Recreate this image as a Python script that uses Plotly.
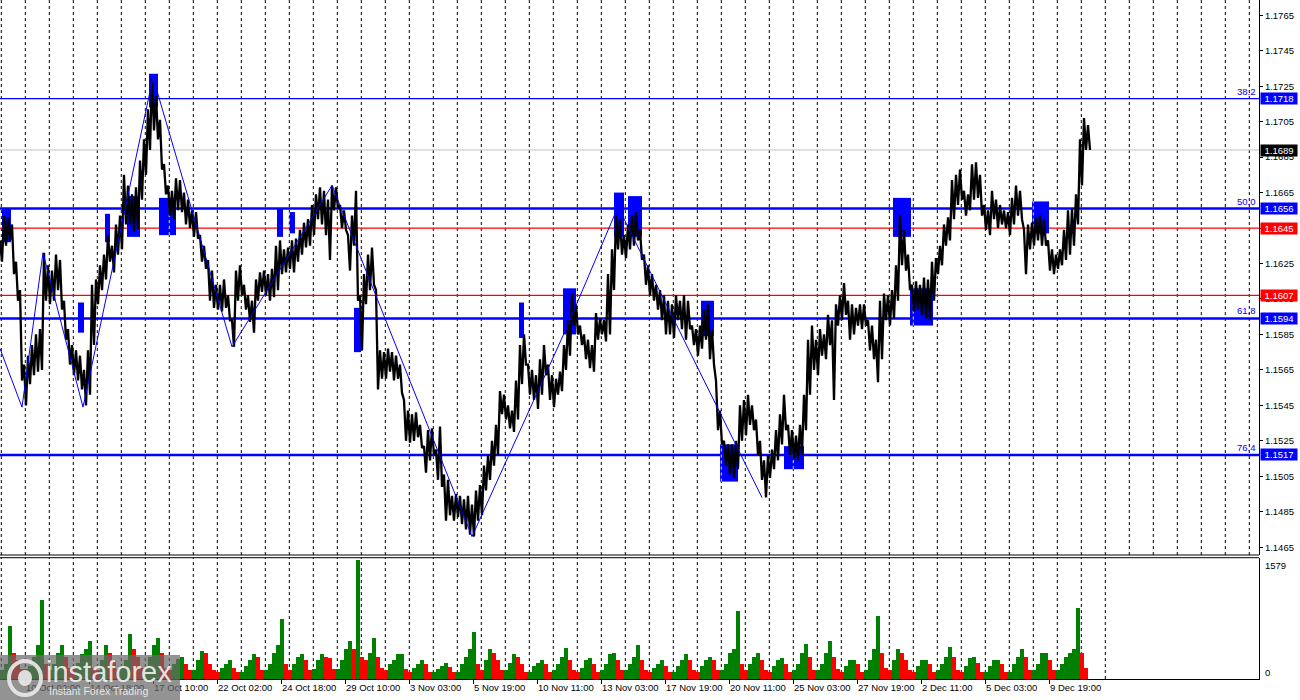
import plotly.graph_objects as go

# ---------------- DATA ----------------
# bar index (1 bar = 1 hour); price sampled every 4 bars: high / low of each group
bar_index = list(range(0, 1089, 4))
highs = [
    1.1638, 1.1652, 1.1651, 1.1647, 1.1626, 1.1610, 1.1568, 1.1573, 1.1579, 1.1585,
    1.1588, 1.1631, 1.1624, 1.1621, 1.1630, 1.1627, 1.1604, 1.1588, 1.1579, 1.1576,
    1.1573, 1.1565, 1.1576, 1.1613, 1.1616, 1.1624, 1.1630, 1.1641, 1.1635, 1.1647,
    1.1652, 1.1675, 1.1669, 1.1664, 1.1668, 1.1683, 1.1695, 1.1712, 1.1730, 1.1720,
    1.1706, 1.1681, 1.1669, 1.1666, 1.1673, 1.1672, 1.1665, 1.1661, 1.1655, 1.1654,
    1.1641, 1.1635, 1.1627, 1.1621, 1.1613, 1.1613, 1.1616, 1.1607, 1.1593, 1.1621,
    1.1624, 1.1613, 1.1607, 1.1604, 1.1616, 1.1620, 1.1621, 1.1619, 1.1622, 1.1635,
    1.1638, 1.1633, 1.1634, 1.1638, 1.1639, 1.1644, 1.1648, 1.1650, 1.1658, 1.1664,
    1.1668, 1.1666, 1.1661, 1.1669, 1.1668, 1.1658, 1.1655, 1.1641, 1.1652, 1.1666,
    1.1607, 1.1619, 1.1630, 1.1634, 1.1610, 1.1576, 1.1575, 1.1577, 1.1575, 1.1573,
    1.1568, 1.1548, 1.1542, 1.1540, 1.1541, 1.1534, 1.1522, 1.1531, 1.1532, 1.1520,
    1.1533, 1.1506, 1.1503, 1.1494, 1.1495, 1.1494, 1.1492, 1.1494, 1.1489, 1.1497,
    1.1500, 1.1511, 1.1517, 1.1525, 1.1534, 1.1553, 1.1551, 1.1545, 1.1542, 1.1559,
    1.1579, 1.1585, 1.1568, 1.1565, 1.1562, 1.1571, 1.1579, 1.1568, 1.1562, 1.1560,
    1.1564, 1.1579, 1.1593, 1.1608, 1.1602, 1.1590, 1.1585, 1.1582, 1.1579, 1.1597,
    1.1594, 1.1593, 1.1619, 1.1633, 1.1652, 1.1650, 1.1641, 1.1647, 1.1652, 1.1654,
    1.1644, 1.1630, 1.1624, 1.1619, 1.1613, 1.1610, 1.1607, 1.1604, 1.1602, 1.1607,
    1.1604, 1.1607, 1.1604, 1.1590, 1.1588, 1.1590, 1.1599, 1.1602, 1.1588, 1.1559,
    1.1542, 1.1525, 1.1523, 1.1523, 1.1525, 1.1545, 1.1548, 1.1551, 1.1545, 1.1537,
    1.1525, 1.1514, 1.1517, 1.1520, 1.1531, 1.1540, 1.1551, 1.1534, 1.1531, 1.1528,
    1.1534, 1.1551, 1.1582, 1.1590, 1.1582, 1.1588, 1.1585, 1.1596, 1.1593, 1.1602,
    1.1607, 1.1614, 1.1604, 1.1602, 1.1600, 1.1602, 1.1602, 1.1593, 1.1590, 1.1582,
    1.1604, 1.1608, 1.1607, 1.1610, 1.1624, 1.1652, 1.1644, 1.1630, 1.1613, 1.1615,
    1.1613, 1.1617, 1.1616, 1.1626, 1.1628, 1.1635, 1.1647, 1.1651, 1.1672, 1.1675,
    1.1678, 1.1666, 1.1664, 1.1681, 1.1682, 1.1675, 1.1658, 1.1655, 1.1666, 1.1661,
    1.1658, 1.1655, 1.1654, 1.1662, 1.1669, 1.1666, 1.1644, 1.1647, 1.1648, 1.1651,
    1.1652, 1.1650, 1.1638, 1.1633, 1.1630, 1.1633, 1.1644, 1.1655, 1.1656, 1.1664,
    1.1695, 1.1707, 1.1703,
]
lows = [
    1.1626, 1.1635, 1.1638, 1.1619, 1.1604, 1.1559, 1.1545, 1.1557, 1.1562, 1.1564,
    1.1565, 1.1604, 1.1602, 1.1604, 1.1610, 1.1599, 1.1582, 1.1568, 1.1562, 1.1559,
    1.1554, 1.1545, 1.1551, 1.1579, 1.1602, 1.1610, 1.1616, 1.1626, 1.1620, 1.1630,
    1.1633, 1.1647, 1.1647, 1.1643, 1.1644, 1.1661, 1.1675, 1.1689, 1.1700, 1.1695,
    1.1678, 1.1664, 1.1652, 1.1650, 1.1655, 1.1654, 1.1647, 1.1645, 1.1640, 1.1639,
    1.1626, 1.1622, 1.1604, 1.1600, 1.1599, 1.1598, 1.1600, 1.1593, 1.1578, 1.1604,
    1.1607, 1.1599, 1.1592, 1.1586, 1.1604, 1.1609, 1.1607, 1.1604, 1.1606, 1.1610,
    1.1619, 1.1620, 1.1622, 1.1620, 1.1626, 1.1630, 1.1634, 1.1635, 1.1641, 1.1650,
    1.1647, 1.1641, 1.1627, 1.1655, 1.1656, 1.1645, 1.1644, 1.1621, 1.1635, 1.1604,
    1.1576, 1.1602, 1.1610, 1.1613, 1.1554, 1.1560, 1.1560, 1.1564, 1.1559, 1.1560,
    1.1552, 1.1525, 1.1524, 1.1525, 1.1527, 1.1521, 1.1507, 1.1514, 1.1517, 1.1503,
    1.1499, 1.1480, 1.1483, 1.1480, 1.1482, 1.1478, 1.1475, 1.1472, 1.1471, 1.1480,
    1.1483, 1.1497, 1.1503, 1.1511, 1.1517, 1.1540, 1.1537, 1.1532, 1.1530, 1.1537,
    1.1557, 1.1568, 1.1551, 1.1548, 1.1543, 1.1551, 1.1562, 1.1548, 1.1544, 1.1551,
    1.1553, 1.1565, 1.1573, 1.1590, 1.1585, 1.1579, 1.1571, 1.1566, 1.1564, 1.1582,
    1.1585, 1.1581, 1.1585, 1.1610, 1.1633, 1.1630, 1.1628, 1.1633, 1.1635, 1.1638,
    1.1627, 1.1613, 1.1607, 1.1604, 1.1599, 1.1593, 1.1585, 1.1585, 1.1583, 1.1593,
    1.1588, 1.1582, 1.1588, 1.1579, 1.1573, 1.1577, 1.1582, 1.1571, 1.1568, 1.1531,
    1.1523, 1.1511, 1.1506, 1.1504, 1.1509, 1.1525, 1.1528, 1.1534, 1.1531, 1.1517,
    1.1503, 1.1493, 1.1504, 1.1509, 1.1514, 1.1523, 1.1531, 1.1517, 1.1515, 1.1514,
    1.1517, 1.1531, 1.1551, 1.1565, 1.1562, 1.1573, 1.1571, 1.1579, 1.1548, 1.1590,
    1.1593, 1.1596, 1.1582, 1.1585, 1.1590, 1.1588, 1.1590, 1.1576, 1.1571, 1.1558,
    1.1571, 1.1593, 1.1590, 1.1594, 1.1604, 1.1624, 1.1621, 1.1610, 1.1598, 1.1599,
    1.1596, 1.1594, 1.1593, 1.1604, 1.1619, 1.1624, 1.1635, 1.1638, 1.1650, 1.1658,
    1.1661, 1.1652, 1.1655, 1.1661, 1.1662, 1.1652, 1.1644, 1.1641, 1.1650, 1.1645,
    1.1647, 1.1645, 1.1641, 1.1647, 1.1652, 1.1650, 1.1619, 1.1633, 1.1635, 1.1638,
    1.1635, 1.1635, 1.1621, 1.1619, 1.1622, 1.1624, 1.1627, 1.1630, 1.1635, 1.1647,
    1.1669, 1.1689, 1.1689,
]

# hourly tick volume, summed per 4-bar group (one row = one trading day)
vol_index = list(range(0, 1085, 4))
volumes = [
    120, 200, 700, 350, 250, 130,
    130, 180, 300, 450, 1050, 200,
    120, 200, 350, 450, 300, 150,
    130, 220, 330, 400, 500, 150,
    120, 250, 450, 350, 250, 130,
    150, 250, 600, 400, 300, 150,
    150, 300, 450, 550, 350, 150,
    120, 200, 270, 300, 200, 120,
    120, 250, 370, 350, 200, 120,
    100, 150, 200, 250, 150, 100,
    100, 180, 250, 330, 300, 120,
    120, 200, 350, 450, 800, 200,
    120, 200, 300, 330, 250, 120,
    130, 250, 330, 300, 280, 130,
    130, 250, 400, 500, 400, 1579,
    300, 250, 350, 550, 300, 150,
    120, 200, 250, 330, 330, 130,
    100, 150, 200, 250, 200, 100,
    100, 130, 180, 220, 160, 100,
    100, 200, 300, 400, 630, 200,
    120, 250, 400, 350, 250, 120,
    120, 220, 330, 300, 200, 100,
    100, 180, 220, 250, 200, 100,
    120, 200, 300, 410, 250, 120,
    100, 150, 250, 280, 200, 100,
    120, 200, 330, 350, 250, 120,
    120, 200, 300, 450, 250, 120,
    100, 150, 200, 250, 180, 100,
    100, 180, 250, 330, 250, 120,
    100, 180, 250, 300, 250, 120,
    120, 200, 350, 400, 900, 200,
    120, 200, 300, 350, 250, 120,
    100, 180, 250, 280, 200, 100,
    120, 200, 350, 460, 300, 120,
    120, 200, 350, 500, 300, 130,
    100, 180, 250, 250, 200, 100,
    120, 250, 400, 830, 350, 150,
    120, 250, 400, 350, 250, 120,
    100, 180, 250, 250, 200, 100,
    120, 200, 300, 430, 300, 120,
    100, 180, 280, 300, 220, 100,
    100, 180, 250, 250, 200, 100,
    100, 200, 300, 400, 300, 120,
    120, 200, 350, 350, 250, 120,
    120, 200, 300, 350, 400, 940,
    350, 150,
]

# zigzag indicator vertices
zz_bars = [0, 22, 43, 83, 153, 232, 332, 472, 566, 618, 762]
zz_prices = [1.1577, 1.1544, 1.1631, 1.1544, 1.1730, 1.1578, 1.1669, 1.1471, 1.1588, 1.1657, 1.1493]

# order-block zones
box_start = [2, 78, 105, 127, 149, 159, 277, 289, 354, 519, 563, 614, 628, 701, 720, 784, 893, 910, 1032]
box_end = [11, 84, 110, 140, 158, 176, 283, 295, 361, 524, 576, 624, 642, 714, 738, 804, 911, 933, 1049]
box_low = [1.1637, 1.1586, 1.1637, 1.1640, 1.1713, 1.1641, 1.1640, 1.1642, 1.1575, 1.1583,
           1.1585, 1.1640, 1.1640, 1.1584, 1.1502, 1.1509, 1.1640, 1.1590, 1.1642]
box_high = [1.1656, 1.1603, 1.1653, 1.1663, 1.1732, 1.1662, 1.1656, 1.1654, 1.1600, 1.1603,
            1.1611, 1.1665, 1.1663, 1.1604, 1.1523, 1.1522, 1.1662, 1.1611, 1.1660]

# Fibonacci levels
fib_levels = [1.1718, 1.1656, 1.1594, 1.1517]
fib_names = ["38.2", "50.0", "61.8", "76.4"]
red_levels = [1.1645, 1.1607]
bid_price = 1.1689

price_ticks = [1.1765, 1.1745, 1.1725, 1.1705, 1.1685, 1.1665, 1.1645, 1.1625, 1.1605,
               1.1585, 1.1565, 1.1545, 1.1525, 1.1505, 1.1485, 1.1465]
time_ticks = [25, 89, 153, 217, 281, 345, 409, 473, 537, 601, 665, 729, 793, 857, 921, 985, 1049]
time_labels = ["10 Oct 02:00", "14 Oct 18:00", "17 Oct 10:00", "22 Oct 02:00", "24 Oct 18:00",
               "29 Oct 10:00", "3 Nov 03:00", "5 Nov 19:00", "10 Nov 11:00", "13 Nov 03:00",
               "17 Nov 19:00", "20 Nov 11:00", "25 Nov 03:00", "27 Nov 19:00", "2 Dec 11:00",
               "5 Dec 03:00", "9 Dec 19:00"]
vol_max_label = "1579"

# ---------------- FIGURE ----------------
FONT = "Liberation Sans, Arial, sans-serif"
W, H = 1300, 700
PLOT_W = 1259          # pixels of plotting area
PLOT_H = 679
PRICE_BOTTOM = 555     # pixel
VOL_TOP = 557.7

def py(pix):  # pixel row -> paper y
    return (PLOT_H - pix) / PLOT_H

def px(pix):  # pixel col -> paper x
    return pix / PLOT_W

fig = go.Figure()

# price as high/low hatch
xs, ys = [], []
for b, h, l in zip(bar_index, highs, lows):
    xs += [b, b + 2]
    ys += [h, l]
fig.add_trace(go.Scatter(x=xs, y=ys, mode="lines", line=dict(color="black", width=2.3),
                         xaxis="x", yaxis="y", hoverinfo="skip"))

# zigzag
fig.add_trace(go.Scatter(x=zz_bars, y=zz_prices, mode="lines", line=dict(color="#0000FF", width=1),
                         xaxis="x", yaxis="y", hoverinfo="skip"))

# volume bars (green when rising vs previous, red when falling)
vcolors = []
for i, v in enumerate(volumes):
    prev = volumes[i - 1] if i > 0 else v
    vcolors.append("#008000" if v >= prev else "#FF0000")
fig.add_trace(go.Bar(x=vol_index, y=volumes, width=4, offset=0, marker=dict(color=vcolors, line=dict(width=0)),
                     xaxis="x", yaxis="y2", hoverinfo="skip"))

shapes = []
# vertical dashed day separators
grid_x = [1.3 + 24 * k for k in range(53)]
for g in grid_x:
    shapes.append(dict(type="line", xref="x", yref="y domain", x0=g, x1=g, y0=0, y1=1,
                       line=dict(color="black", width=1, dash="3px,3px"), layer="below"))
    if g < 1106:
        shapes.append(dict(type="line", xref="x", yref="y2 domain", x0=g, x1=g, y0=0, y1=1,
                           line=dict(color="black", width=1, dash="3px,3px"), layer="below"))
# zones
for s, e, lo, hi in zip(box_start, box_end, box_low, box_high):
    shapes.append(dict(type="rect", xref="x", yref="y", x0=s, x1=e, y0=lo, y1=hi,
                       fillcolor="#0000FF", line=dict(width=0), layer="below"))
# separators crossing the zones show in yellow
for s, e, lo, hi in zip(box_start, box_end, box_low, box_high):
    for g in grid_x:
        if s <= g <= e:
            shapes.append(dict(type="line", xref="x", yref="y", x0=g, x1=g, y0=lo, y1=hi,
                               line=dict(color="#FFFF00", width=1, dash="3px,3px"), layer="below"))
# horizontal levels
fib_w = [1.3, 2.6, 2.6, 2.4]
for lv, w in zip(fib_levels, fib_w):
    shapes.append(dict(type="line", xref="paper", yref="y", x0=0, x1=1, y0=lv, y1=lv,
                       line=dict(color="#0000FF", width=w), layer="below"))
for lv in red_levels:
    shapes.append(dict(type="line", xref="paper", yref="y", x0=0, x1=1, y0=lv, y1=lv,
                       line=dict(color="#FF0000", width=1.2), layer="below"))
shapes.append(dict(type="line", xref="paper", yref="y", x0=0, x1=1, y0=bid_price, y1=bid_price,
                   line=dict(color="#C0C0C0", width=1), layer="below"))
# panel borders
shapes.append(dict(type="line", xref="paper", yref="paper", x0=0, x1=1, y0=py(PRICE_BOTTOM), y1=py(PRICE_BOTTOM),
                   line=dict(color="black", width=1)))
shapes.append(dict(type="line", xref="paper", yref="paper", x0=0, x1=1, y0=py(VOL_TOP), y1=py(VOL_TOP),
                   line=dict(color="black", width=1)))
# logo plate
shapes.append(dict(type="rect", xref="paper", yref="paper", x0=0, x1=px(180), y0=py(700), y1=py(655),
                   fillcolor="rgba(105,105,105,0.72)", line=dict(width=0), layer="above"))
shapes.append(dict(type="circle", xref="paper", yref="paper", x0=px(9), x1=px(41), y0=py(695), y1=py(661),
                   fillcolor="rgba(0,0,0,0)", line=dict(color="rgba(235,235,235,0.9)", width=4), layer="above"))
shapes.append(dict(type="circle", xref="paper", yref="paper", x0=px(18), x1=px(32), y0=py(686), y1=py(670),
                   fillcolor="rgba(235,235,235,0.9)", line=dict(width=0), layer="above"))

annotations = []
# fib labels
for lv, name in zip(fib_levels, fib_names):
    annotations.append(dict(xref="paper", yref="y", x=px(1258), y=lv, text=name, showarrow=False,
                            xanchor="right", yanchor="bottom", yshift=0,
                            font=dict(family=FONT, size=9.5, color="#0000FF")))
# price tags on the axis
tag_prices = [1.1718, bid_price, 1.1656, 1.1645, 1.1607, 1.1594, 1.1517]
tag_colors = ["#0000FF", "#000000", "#0000FF", "#FF0000", "#FF0000", "#0000FF", "#0000FF"]
for p, c in zip(tag_prices, tag_colors):
    annotations.append(dict(xref="paper", yref="y", x=px(1260), y=p, text=f"{p:.4f}", showarrow=False,
                            xanchor="left", yanchor="middle", bgcolor=c, width=36, height=11,
                            borderpad=0, align="center",
                            font=dict(family=FONT, size=9.5, color="white")))
# volume scale labels
annotations.append(dict(xref="paper", yref="paper", x=px(1263), y=py(565), text=vol_max_label, showarrow=False,
                        xanchor="left", yanchor="middle", font=dict(family=FONT, size=9.5, color="black")))
annotations.append(dict(xref="paper", yref="paper", x=px(1263), y=py(672), text="0", showarrow=False,
                        xanchor="left", yanchor="middle", font=dict(family=FONT, size=9.5, color="black")))
# logo text
annotations.append(dict(xref="paper", yref="paper", x=px(44), y=py(672), text="instaforex", showarrow=False,
                        xanchor="left", yanchor="middle",
                        font=dict(family="Liberation Sans, Arial, sans-serif", size=29, color="rgba(240,240,240,0.92)")))
annotations.append(dict(xref="paper", yref="paper", x=px(47), y=py(691), text="Instant Forex Trading", showarrow=False,
                        xanchor="left", yanchor="middle",
                        font=dict(family="Liberation Sans, Arial, sans-serif", size=10.5, color="rgba(240,240,240,0.92)")))

fig.update_layout(
    width=W, height=H,
    margin=dict(l=0, r=W - PLOT_W, t=0, b=H - PLOT_H, pad=0, autoexpand=False),
    paper_bgcolor="white", plot_bgcolor="white", showlegend=False,
    font=dict(family=FONT, size=9.5, color="black"),
    xaxis=dict(range=[0, PLOT_W], anchor="y2", showgrid=False, zeroline=False,
               showline=True, linecolor="black", linewidth=1,
               ticks="outside", ticklen=4, tickcolor="black", tickwidth=1,
               tickvals=time_ticks, ticktext=time_labels, ticklabelposition="outside right",
               tickangle=0, automargin=False,
               tickfont=dict(family=FONT, size=9.5, color="black"), fixedrange=True),
    yaxis=dict(domain=[py(PRICE_BOTTOM), 1], range=[1.14606, 1.17736], side="right", anchor="x",
               showgrid=False, zeroline=False, showline=True, linecolor="black", linewidth=1,
               ticks="outside", ticklen=3, tickcolor="black", tickvals=price_ticks, automargin=False,
               ticktext=[f"{t:.4f}" for t in price_ticks],
               tickfont=dict(family=FONT, size=9.5, color="black")),
    yaxis2=dict(domain=[0, py(VOL_TOP)], range=[0, 1600], side="right", anchor="x",
                showgrid=False, zeroline=False, showline=True, linecolor="black", linewidth=1,
                showticklabels=False, ticks="", automargin=False),
    shapes=shapes, annotations=annotations, bargap=0,
)

fig.write_html("out.html", config={"displayModeBar": False},
               post_script="document.body.style.margin='0';document.body.style.overflow='hidden';")
